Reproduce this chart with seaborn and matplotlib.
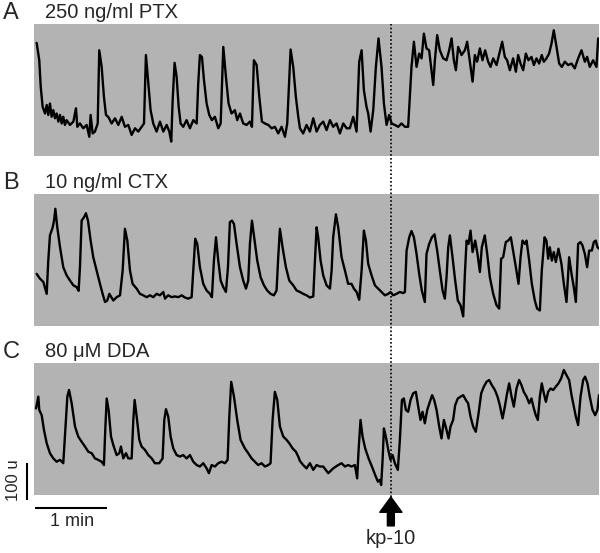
import matplotlib
matplotlib.use("Agg")
import matplotlib.pyplot as plt
import matplotlib.transforms as mtransforms
from matplotlib.lines import Line2D
import pandas as pd
import seaborn as sns

# traces: time in s, signal in u
ptx_time = [
    2.2, 4.4, 5.6, 7.2, 9.2, 10.6, 11.9, 13.3, 14.7, 16.1,
    17.5, 18.9, 20.3, 21.7, 23.1, 24.4, 25.8, 27.2, 30.0, 32.8,
    35.0, 36.1, 38.3, 41.1, 43.9, 46.1, 47.2, 48.9, 50.8, 52.2,
    53.1, 54.4, 56.4, 58.3, 60.0, 61.9, 64.7, 67.5, 70.3, 73.1,
    75.8, 78.6, 81.4, 84.2, 86.9, 89.7, 91.7, 93.3, 95.3, 97.2,
    99.4, 102.2, 105.0, 107.8, 110.6, 112.8, 114.4, 115.6, 117.2, 118.9,
    120.6, 122.2, 124.4, 127.2, 130.0, 132.8, 135.6, 136.9, 138.3, 140.0,
    141.7, 143.9, 146.1, 148.3, 150.8, 153.6, 155.6, 157.8, 160.0, 162.2,
    164.7, 167.5, 169.4, 171.7, 174.4, 177.2, 180.0, 181.7, 183.3, 185.6,
    187.8, 190.0, 192.5, 195.3, 198.1, 200.8, 203.6, 206.4, 209.2, 211.1,
    213.9, 216.1, 218.3, 220.3, 221.7, 224.4, 227.2, 230.0, 232.8, 235.6,
    238.3, 241.1, 243.9, 246.7, 249.4, 252.2, 255.0, 257.8, 260.6, 263.3,
    266.1, 268.9, 271.1, 273.1, 275.0, 277.2, 278.6, 280.6, 282.8, 285.0,
    287.2, 289.7, 291.7, 293.9, 296.1, 298.1, 300.8, 303.6, 306.4, 309.2,
    311.9, 314.7, 316.7, 318.9, 321.1, 323.1, 325.0, 327.2, 329.4, 331.4,
    332.8, 334.2, 336.1, 338.3, 341.1, 343.9, 346.1, 348.1, 350.0, 351.7,
    353.6, 356.4, 359.2, 361.1, 362.8, 365.6, 367.5, 369.4, 371.7, 373.9,
    376.1, 378.6, 380.6, 382.8, 385.6, 388.3, 390.3, 392.5, 394.4, 396.7,
    399.4, 401.7, 403.6, 405.6, 407.8, 410.0, 412.2, 414.7, 416.7, 418.9,
    421.1, 423.3, 425.0, 427.2, 429.4, 431.4, 433.3, 435.6, 437.8, 440.0,
    442.5, 445.3, 448.1, 450.8, 453.6, 456.4, 459.2, 461.1, 463.3, 466.1,
    468.9, 470.3]
ptx_signal = [
    306, 259, 187, 133, 115, 138, 111, 142, 106, 124,
    102, 115, 93, 111, 88, 106, 84, 97, 84, 93,
    129, 79, 88, 75, 84, 52, 111, 61, 66, 79,
    88, 286, 241, 160, 111, 106, 88, 102, 84, 106,
    79, 84, 57, 75, 66, 79, 88, 273, 196, 124,
    88, 66, 93, 66, 84, 66, 39, 151, 252, 214,
    133, 88, 79, 97, 75, 97, 88, 196, 273, 268,
    205, 142, 111, 97, 106, 75, 88, 295, 214, 142,
    115, 124, 97, 115, 88, 84, 93, 79, 259, 246,
    160, 93, 88, 84, 75, 79, 61, 79, 52, 88,
    288, 241, 160, 106, 75, 61, 84, 66, 102, 66,
    84, 93, 70, 97, 79, 88, 61, 88, 75, 75,
    106, 66, 255, 286, 178, 133, 115, 66, 124, 241,
    318, 241, 142, 84, 111, 88, 84, 79, 88, 79,
    79, 241, 309, 241, 277, 264, 331, 291, 286, 232,
    192, 259, 327, 286, 264, 259, 286, 318, 259, 232,
    295, 273, 286, 309, 268, 201, 273, 255, 291, 259,
    286, 255, 241, 264, 246, 282, 309, 268, 259, 232,
    264, 228, 273, 250, 232, 277, 259, 268, 246, 264,
    250, 273, 255, 264, 277, 304, 340, 295, 250, 241,
    255, 246, 250, 237, 264, 286, 255, 268, 241, 259,
    241, 318]

ctx_time = [
    2.2, 5.0, 7.8, 10.6, 11.9, 13.3, 15.6, 16.7, 17.8, 19.4,
    21.7, 24.4, 27.2, 30.0, 32.8, 35.6, 37.2, 38.3, 39.7, 41.7,
    43.3, 45.0, 47.2, 49.4, 52.2, 55.0, 57.2, 59.2, 61.1, 62.8,
    64.4, 66.1, 68.9, 71.7, 73.9, 75.8, 77.8, 80.0, 82.2, 85.6,
    88.3, 91.1, 93.9, 96.7, 99.4, 102.2, 105.0, 107.8, 109.2, 111.9,
    114.7, 117.5, 120.3, 123.1, 125.8, 128.6, 131.4, 132.8, 134.4, 136.1,
    138.3, 141.1, 143.9, 146.7, 148.3, 150.0, 151.7, 153.6, 155.6, 157.8,
    160.0, 161.7, 163.3, 165.0, 166.7, 168.9, 171.7, 174.4, 176.7, 178.6,
    180.0, 181.7, 183.9, 186.1, 188.9, 191.7, 194.4, 197.2, 200.0, 202.2,
    203.6, 205.0, 207.2, 210.0, 212.8, 216.1, 218.9, 221.7, 224.4, 227.2,
    230.0, 232.8, 234.2, 235.6, 236.9, 238.9, 241.1, 243.9, 246.7, 248.1,
    249.4, 251.7, 253.6, 256.4, 259.2, 261.9, 264.7, 266.7, 268.9, 271.1,
    273.1, 275.0, 276.7, 278.6, 281.4, 284.2, 286.9, 289.7, 292.5, 295.3,
    297.2, 299.4, 302.2, 305.0, 307.8, 309.2, 310.6, 312.8, 314.7, 316.7,
    318.9, 321.1, 323.3, 325.8, 327.2, 329.4, 331.7, 333.9, 336.1, 338.3,
    340.6, 342.5, 343.9, 345.3, 346.7, 348.9, 351.1, 353.3, 355.6, 357.8,
    359.2, 360.6, 362.2, 363.9, 365.6, 367.8, 369.7, 371.7, 373.3, 375.8,
    377.8, 380.0, 382.8, 385.6, 387.8, 389.4, 391.1, 393.3, 395.3, 397.5,
    399.4, 401.7, 403.9, 405.6, 407.2, 409.2, 410.6, 412.8, 415.0, 417.5,
    419.4, 421.7, 423.3, 425.6, 427.2, 428.6, 430.0, 431.7, 433.3, 435.0,
    437.2, 439.7, 441.7, 443.9, 446.1, 448.1, 450.0, 451.7, 453.6, 455.6,
    457.2, 459.2, 461.1, 462.8, 465.0, 466.7, 468.3, 469.7, 471.0]
ctx_signal = [
    141, 128, 119, 87, 177, 245, 267, 285, 317, 267,
    213, 159, 137, 123, 110, 105, 95, 159, 285, 294,
    305, 285, 231, 186, 150, 114, 87, 65, 69, 87,
    78, 69, 78, 83, 150, 263, 231, 150, 114, 101,
    87, 83, 78, 83, 78, 87, 83, 92, 74, 83,
    78, 80, 78, 83, 77, 74, 78, 150, 236, 222,
    159, 114, 96, 87, 78, 177, 240, 177, 123, 105,
    92, 159, 281, 285, 276, 222, 159, 123, 101, 123,
    222, 285, 231, 177, 132, 110, 96, 87, 83, 96,
    186, 263, 213, 159, 123, 110, 96, 92, 87, 83,
    77, 80, 177, 267, 240, 177, 137, 110, 101, 150,
    240, 302, 267, 186, 150, 114, 114, 101, 92, 71,
    150, 258, 231, 168, 137, 110, 101, 92, 83, 87,
    92, 83, 87, 92, 89, 92, 204, 240, 257, 240,
    195, 141, 96, 65, 195, 222, 240, 248, 204, 150,
    96, 74, 132, 213, 245, 186, 123, 69, 56, 26,
    141, 231, 222, 258, 200, 231, 195, 146, 213, 245,
    195, 132, 87, 56, 47, 182, 186, 227, 231, 240,
    204, 159, 114, 186, 231, 222, 231, 177, 114, 69,
    47, 42, 150, 240, 231, 182, 213, 177, 200, 173,
    209, 168, 114, 65, 186, 141, 105, 65, 222, 227,
    218, 195, 159, 204, 204, 227, 231, 213, 209]

dda_time = [
    1.7, 3.6, 4.4, 6.4, 8.3, 10.6, 13.3, 16.1, 18.9, 21.7,
    24.4, 26.1, 27.8, 29.2, 31.4, 34.2, 36.9, 39.7, 42.5, 45.3,
    48.1, 50.8, 53.6, 56.4, 58.3, 59.4, 60.6, 62.2, 64.2, 66.1,
    68.9, 71.1, 72.5, 74.4, 76.7, 78.6, 81.4, 82.8, 83.9, 85.6,
    87.8, 89.7, 92.5, 95.3, 98.1, 100.8, 104.4, 107.2, 108.6, 110.0,
    111.9, 113.9, 116.1, 118.9, 121.7, 124.4, 127.2, 130.0, 132.8, 135.6,
    138.3, 141.1, 143.9, 145.8, 148.1, 150.8, 153.6, 156.4, 159.2, 161.4,
    162.8, 164.4, 166.7, 169.4, 172.2, 175.8, 178.6, 181.4, 184.2, 186.9,
    189.7, 192.5, 195.3, 197.2, 198.9, 200.8, 202.8, 205.0, 207.8, 210.6,
    212.8, 215.6, 218.3, 220.3, 221.7, 224.4, 227.2, 230.0, 232.8, 235.6,
    238.3, 241.1, 245.3, 249.4, 253.6, 256.4, 259.2, 261.9, 264.7, 267.5,
    269.4, 270.6, 272.2, 273.9, 276.1, 278.9, 281.7, 284.4, 286.7, 288.3,
    289.4, 290.6, 291.7, 293.3, 295.3, 297.2, 298.9, 300.8, 303.3, 305.0,
    306.7, 308.3, 310.0, 311.9, 313.9, 316.1, 318.3, 320.3, 322.2, 323.9,
    325.8, 327.8, 330.0, 331.9, 333.6, 335.6, 337.8, 339.7, 341.7, 343.9,
    345.6, 347.2, 349.4, 351.1, 353.3, 355.6, 357.8, 360.0, 361.9, 363.9,
    366.1, 368.3, 370.6, 372.8, 375.0, 377.2, 379.4, 381.7, 384.2, 386.4,
    388.3, 390.6, 392.5, 394.4, 396.1, 398.1, 400.0, 402.2, 404.4, 406.4,
    408.3, 410.6, 412.8, 414.7, 416.7, 418.3, 420.0, 421.7, 423.3, 425.0,
    426.7, 428.6, 430.6, 432.8, 435.0, 437.2, 439.4, 441.7, 443.9, 446.1,
    448.1, 450.0, 451.7, 453.6, 455.6, 457.8, 459.4, 461.4, 463.3, 465.6,
    467.8, 469.7, 471.0]
dda_signal = [
    234, 266, 230, 216, 176, 140, 113, 99, 90, 95,
    86, 176, 266, 284, 248, 185, 158, 144, 131, 117,
    113, 99, 95, 90, 81, 176, 261, 230, 158, 135,
    108, 113, 131, 99, 113, 99, 99, 203, 257, 212,
    149, 131, 122, 108, 99, 86, 86, 99, 203, 232,
    212, 158, 126, 108, 104, 108, 99, 108, 90, 81,
    77, 86, 72, 59, 81, 77, 86, 90, 86, 95,
    212, 306, 266, 203, 149, 126, 113, 99, 90, 81,
    86, 77, 81, 86, 203, 279, 257, 185, 158, 149,
    140, 126, 117, 104, 92, 81, 72, 86, 68, 81,
    77, 77, 59, 72, 81, 86, 77, 81, 77, 81,
    45, 122, 203, 158, 126, 99, 77, 54, 36, 41,
    27, 95, 180, 158, 122, 95, 108, 86, 68, 149,
    257, 261, 230, 225, 257, 275, 279, 239, 203, 225,
    194, 230, 252, 270, 257, 230, 185, 153, 203, 176,
    153, 185, 203, 243, 261, 266, 270, 257, 248, 212,
    185, 171, 221, 275, 293, 306, 311, 297, 284, 266,
    243, 207, 239, 275, 302, 266, 239, 288, 311, 297,
    279, 266, 248, 261, 234, 216, 203, 266, 302, 275,
    252, 279, 288, 284, 293, 302, 315, 338, 324, 311,
    270, 239, 212, 189, 266, 311, 320, 302, 266, 230,
    216, 230, 270]

panel_letters = ["A", "B", "C"]
panel_titles = ["250 ng/ml PTX", "10 ng/ml CTX", "80 \u03bcM DDA"]
kp10_time = 297.5   # s, kp-10 application
t_end = 471
y_top = 357

sns.set_style("white")
plt.rcParams['font.family'] = ['Liberation Sans', 'DejaVu Sans']

fig = plt.figure(figsize=(6, 5.53), dpi=100)
W, H = 600.0, 553.0
bottoms = [156, 326, 495]   # pixel rows of the panel bottoms
traces = [(ptx_time, ptx_signal), (ctx_time, ctx_signal), (dda_time, dda_signal)]

axes = []
for i, (tt, uu) in enumerate(traces):
    ax = fig.add_axes([34 / W, 1 - bottoms[i] / H, 565 / W, 132 / H])
    ax.set_facecolor('#b3b3b3')
    df = pd.DataFrame({'time': tt, 'signal': uu})
    sns.lineplot(data=df, x='time', y='signal', ax=ax, color='black',
                 linewidth=1.7, estimator=None, sort=False, legend=False)
    ax.set_xlim(0, t_end)
    ax.set_ylim(0, y_top)
    ax.set_xticks([])
    ax.set_yticks([])
    ax.set_xlabel('')
    ax.set_ylabel('')
    for s in ax.spines.values():
        s.set_visible(False)
    top = bottoms[i] - 132
    fig.text(3 / W, 1 - (top - 11) / H, panel_letters[i], fontsize=17,
             ha='left', va='center')
    fig.text(45 / W, 1 - (top - 6) / H, panel_titles[i], fontsize=14.5,
             ha='left', va='baseline')
    axes.append(ax)

axC = axes[2]

# dotted kp-10 line across all panels
tr = mtransforms.blended_transform_factory(axC.transData, fig.transFigure)
fig.add_artist(Line2D([kp10_time, kp10_time], [1 - 497 / H, 1 - 24 / H],
                      transform=tr, color='black', linewidth=1.2,
                      linestyle=(0, (1, 1.3))))

axC.annotate('kp-10', xy=(kp10_time, -0.015), xycoords=('data', 'axes fraction'),
             xytext=(0, -30), textcoords='offset points', ha='center', va='center',
             fontsize=14.5, annotation_clip=False,
             arrowprops=dict(facecolor='black', edgecolor='black', width=5,
                             headwidth=16, headlength=11, shrink=0))

# scale bars: 100 u and 1 min
axC.plot([-5.8, -5.8], [-13.5, 86.5], color='black', linewidth=1.5,
         clip_on=False, solid_capstyle='butt')
axC.plot([1, 61], [-36, -36], color='black', linewidth=1.5,
         clip_on=False, solid_capstyle='butt')
fig.text(14 / W, 1 - 480 / H, '100 u', rotation=90, fontsize=12,
         ha='center', va='center')
fig.text(72 / W, 1 - 521 / H, '1 min', fontsize=13, ha='center', va='center')

fig.savefig('out.png', dpi=100)
